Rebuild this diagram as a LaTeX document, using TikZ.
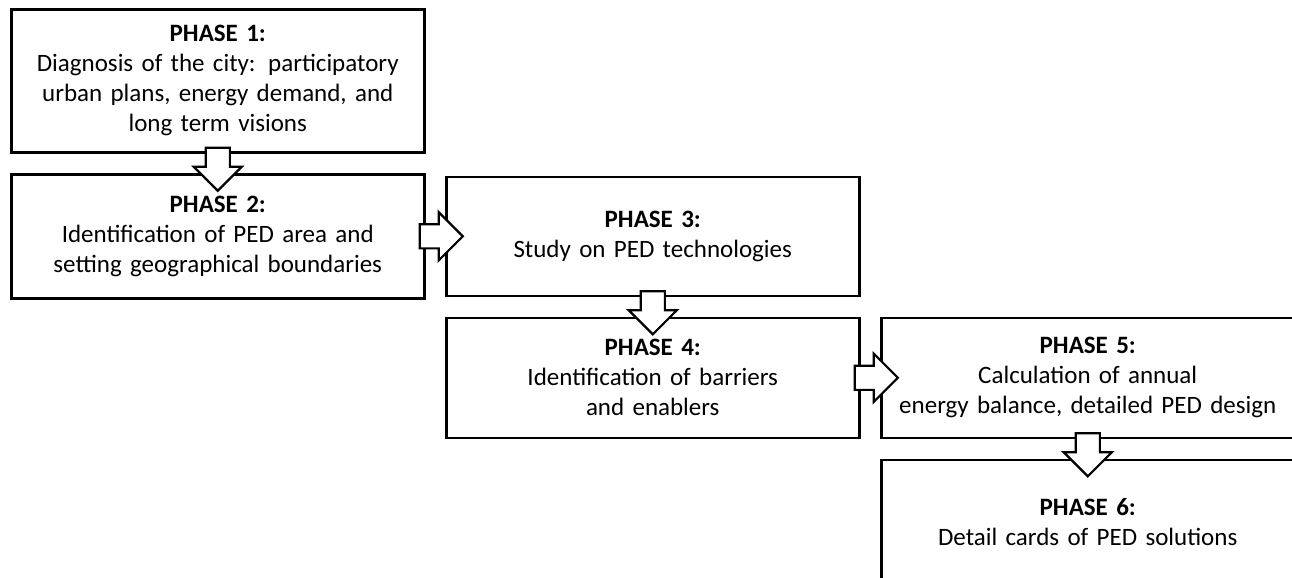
\documentclass[tikz,border=0pt]{standalone}
\usepackage{fontspec}
\setmainfont{Carlito}
\usepackage{tikz}
\usetikzlibrary{positioning,shapes.arrows,calc}
\newlength\px
\setlength\px{0.75pt}

\begin{document}
\begin{tikzpicture}[
  node distance=19.5\px,
  every node/.style={align=center,font=\fontsize{18.75}{22.5}\selectfont},
  phase/.style={draw,line width=2.5\px,text width=400\px,minimum width=413\px,minimum height=120\px,inner sep=0pt},
  flow/.style={draw,fill=white,line width=2.2\px,single arrow,single arrow head extend=12\px,single arrow tip angle=90,inner sep=11\px,minimum height=43\px}]

    \path[use as bounding box] (0,0) rectangle (1292\px,-578\px);

    \node[phase,minimum height=143\px,anchor=north west](p1) at (10\px,-8\px)
        {\textbf{PHASE 1:}\\Diagnosis of the city: participatory\\urban plans, energy demand, and\\long term visions};
    \node[phase,minimum height=124\px,below=of p1](p2)
        {\textbf{PHASE 2:}\\Identification of PED area and\\setting geographical boundaries};
    \node[phase,minimum height=119\px,right=of p2](p3)
        {\textbf{PHASE 3:}\\Study on PED technologies};
    \node[phase,below=of p3](p4)
        {\textbf{PHASE 4:}\\Identification of barriers\\and enablers};
    \node[phase,right=of p4](p5)
        {\textbf{PHASE 5:}\\Calculation of annual\\energy balance, detailed PED design};
    \node[phase,minimum height=125\px,below=of p5](p6)
        {\textbf{PHASE 6:}\\Detail cards of PED solutions};

    \node[flow,shape border rotate=270](a12) at ($(p1.south)!.5!(p2.north)$) {};
    \node[flow](a23) at ($(p2.east)!.5!(p3.west)$) {};
    \node[flow,shape border rotate=270](a34) at ($(p3.south)!.5!(p4.north)$) {};
    \node[flow](a45) at ($(p4.east)!.5!(p5.west)$) {};
    \node[flow,shape border rotate=270](a56) at ($(p5.south)!.5!(p6.north)$) {};
\end{tikzpicture}
\end{document}
